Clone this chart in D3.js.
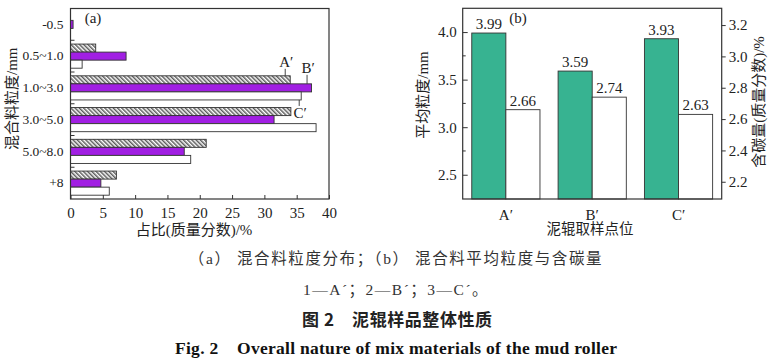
<!DOCTYPE html>
<html><head><meta charset="utf-8">
<script src="https://cdn.jsdelivr.net/npm/d3@7"></script>
<style>
html,body{margin:0;padding:0;background:#fff;}
svg{display:block;}
</style></head>
<body>
<svg id="c" width="770" height="358"></svg>
<script>
// ---------- data ----------
const sizeCats = ["-0.5","0.5~1.0","1.0~3.0","3.0~5.0","5.0~8.0","+8"];
const seriesNames = ["A′","B′","C′"];
const seriesA = [0, 3.9, 34.0, 34.1, 21.0, 7.1];
const seriesB = [0.4, 8.6, 37.3, 31.5, 17.6, 4.7];
const seriesC = [0, 1.8, 35.7, 38.0, 18.6, 6.0];
const xTicksA = [0,5,10,15,20,25,30,35,40];

const sampleCats = ["A′","B′","C′"];
const meanSize = [3.99, 3.59, 3.93];
const carbon = [2.66, 2.74, 2.63];
const leftTicksB = [2.5,3.0,3.5,4.0];
const leftMinorB = [2.75,3.25,3.75];
const rightTicksB = [2.2,2.4,2.6,2.8,3.0,3.2];

const SERIF = "'Liberation Serif','Times New Roman','Noto Sans CJK SC',serif";
const CJK = "'Liberation Serif','Noto Sans CJK SC',serif";
const TXT = "#222";
const LINE = "#333";
const PURPLE = "#a11fe3";
const GREEN = "#37b391";

const svg = d3.select("#c");
const defs = svg.append("defs");
const pat = defs.append("pattern").attr("id","hatch").attr("patternUnits","userSpaceOnUse")
  .attr("width",3).attr("height",3).attr("patternTransform","rotate(-45)");
pat.append("rect").attr("width",3).attr("height",3).attr("fill","#fff");
pat.append("line").attr("x1",0.8).attr("y1",0).attr("x2",0.8).attr("y2",3)
  .attr("stroke","#333").attr("stroke-width",1.2);

// ---------- chart (a) ----------
const aL=70.5, aR=329, aT=8.5, aB=199;
const xA = d3.scaleLinear().domain([0,40]).range([aL,aR]);
const yA = d3.scaleBand().domain(sizeCats).range([aT,aB]).paddingInner(0.24).paddingOuter(0.12);
const ySub = d3.scaleBand().domain(seriesNames).range([0,yA.bandwidth()]);
const fills = ["url(#hatch)", PURPLE, "#fff"];
const seriesAll = [seriesA, seriesB, seriesC];

const gA = svg.append("g");
seriesAll.forEach((vals,si)=>{
  gA.selectAll(null).data(sizeCats.map((c,i)=>({c, v:vals[i]})).filter(d=>d.v>0))
    .enter().append("rect")
    .attr("x", xA(0))
    .attr("y", d=>yA(d.c)+ySub(seriesNames[si]))
    .attr("width", d=>xA(d.v)-xA(0))
    .attr("height", ySub.bandwidth())
    .attr("fill", fills[si])
    .attr("stroke", LINE).attr("stroke-width",0.9);
});
// frame
gA.append("rect").attr("x",aL).attr("y",aT).attr("width",aR-aL).attr("height",aB-aT)
  .attr("fill","none").attr("stroke",LINE).attr("stroke-width",1.2);
// x axis
const axA = d3.axisBottom(xA).tickValues(xTicksA).tickSize(-4).tickPadding(8).tickFormat(d3.format("d"));
const gax = gA.append("g").attr("transform",`translate(0,${aB})`).call(axA);
gax.select(".domain").remove();
gax.selectAll("line").attr("stroke",LINE);
gax.selectAll("text").attr("font-family",SERIF).attr("font-size",15).attr("fill",TXT);
// y axis labels
const ayA = d3.axisLeft(yA).tickSize(0).tickPadding(7);
const gay = gA.append("g").attr("transform",`translate(${aL},0)`).call(ayA);
gay.select(".domain").remove();
gay.selectAll("text").attr("font-family",SERIF).attr("font-size",13.5).attr("fill",TXT);
// y boundary ticks
const step = yA.step(), bw = yA.bandwidth();
gA.selectAll(null).data(sizeCats.slice(0,-1)).enter().append("line")
  .attr("x1",aL).attr("x2",aL+4)
  .attr("y1",d=>yA(d)+bw+(step-bw)/2).attr("y2",d=>yA(d)+bw+(step-bw)/2)
  .attr("stroke",LINE);
// titles
gA.append("text").attr("x",93).attr("y",23).attr("text-anchor","middle")
  .attr("font-family",SERIF).attr("font-size",15).attr("fill",TXT).text("(a)");
gA.append("text").attr("x",194).attr("y",235).attr("text-anchor","middle")
  .attr("font-family",CJK).attr("font-size",15).attr("fill",TXT).text("占比(质量分数)/%");
gA.append("text").attr("transform",`translate(17,${(aT+aB)/2-5}) rotate(-90)`).attr("text-anchor","middle")
  .attr("font-family",CJK).attr("font-size",15).attr("fill",TXT).text("混合料粒度/mm");
// leader annotations on 1.0~3.0 group
const g3 = "1.0~3.0";
const annA = {x:xA(seriesA[2])-5, y0:yA(g3)+ySub("A′")-7, y1:yA(g3)+ySub("A′")};
const annB = {x:xA(seriesB[2])-4.5, y0:yA(g3)+ySub("B′")-9, y1:yA(g3)+ySub("B′")};
const annC = {x:xA(seriesC[2])-2, y0:yA(g3)+ySub("C′")+ySub.bandwidth(), y1:yA(g3)+ySub("C′")+ySub.bandwidth()+6};
[annA,annB,annC].forEach(a=>{
  gA.append("line").attr("x1",a.x).attr("x2",a.x).attr("y1",a.y0).attr("y2",a.y1)
    .attr("stroke",LINE).attr("stroke-width",0.9);
});
gA.append("text").attr("x",annA.x+1).attr("y",annA.y0-2).attr("text-anchor","middle")
  .attr("font-family",SERIF).attr("font-size",15).attr("fill",TXT).text("A′");
gA.append("text").attr("x",annB.x+1).attr("y",annB.y0-2).attr("text-anchor","middle")
  .attr("font-family",SERIF).attr("font-size",15).attr("fill",TXT).text("B′");
gA.append("text").attr("x",annC.x+1).attr("y",annC.y1+12).attr("text-anchor","middle")
  .attr("font-family",SERIF).attr("font-size",15).attr("fill",TXT).text("C′");

// ---------- chart (b) ----------
const bL=462.7, bR=721.7, bT=8.3, bB=199;
const xB = d3.scaleBand().domain(sampleCats).range([bL,bR]).paddingInner(0.21).paddingOuter(0.105);
const yL = d3.scaleLinear().domain([2.245,4.25]).range([bB,bT]);
const yR = d3.scaleLinear().domain([2.09,3.307]).range([bB,bT]);
const half = xB.bandwidth()/2;
const gB = svg.append("g");
gB.selectAll(null).data(sampleCats.map((c,i)=>({c,v:meanSize[i]}))).enter().append("rect")
  .attr("x",d=>xB(d.c)).attr("y",d=>yL(d.v)).attr("width",half).attr("height",d=>bB-yL(d.v))
  .attr("fill",GREEN).attr("stroke",LINE).attr("stroke-width",0.9);
gB.selectAll(null).data(sampleCats.map((c,i)=>({c,v:carbon[i]}))).enter().append("rect")
  .attr("x",d=>xB(d.c)+half).attr("y",d=>yR(d.v)).attr("width",half).attr("height",d=>bB-yR(d.v))
  .attr("fill","#fff").attr("stroke",LINE).attr("stroke-width",0.9);
// value labels
gB.selectAll(null).data(sampleCats.map((c,i)=>({c,v:meanSize[i]}))).enter().append("text")
  .attr("x",d=>xB(d.c)+half/2).attr("y",d=>yL(d.v)-4).attr("text-anchor","middle")
  .attr("font-family",SERIF).attr("font-size",15).attr("fill",TXT).text(d=>d.v.toFixed(2));
gB.selectAll(null).data(sampleCats.map((c,i)=>({c,v:carbon[i]}))).enter().append("text")
  .attr("x",d=>xB(d.c)+half*1.5).attr("y",d=>yR(d.v)-4).attr("text-anchor","middle")
  .attr("font-family",SERIF).attr("font-size",15).attr("fill",TXT).text(d=>d.v.toFixed(2));
// frame
gB.append("rect").attr("x",bL).attr("y",bT).attr("width",bR-bL).attr("height",bB-bT)
  .attr("fill","none").attr("stroke",LINE).attr("stroke-width",1.2);
// left axis
const gl = gB.append("g").attr("transform",`translate(${bL},0)`)
  .call(d3.axisLeft(yL).tickValues(leftTicksB).tickSize(-5).tickPadding(6).tickFormat(d3.format(".1f")));
gl.select(".domain").remove();
gl.selectAll("line").attr("stroke",LINE);
gl.selectAll("text").attr("font-family",SERIF).attr("font-size",15).attr("fill",TXT);
gB.selectAll(null).data(leftMinorB).enter().append("line")
  .attr("x1",bL).attr("x2",bL+3).attr("y1",d=>yL(d)).attr("y2",d=>yL(d)).attr("stroke",LINE);
// right axis
const gr = gB.append("g").attr("transform",`translate(${bR},0)`)
  .call(d3.axisRight(yR).tickValues(rightTicksB).tickSize(4).tickPadding(3).tickFormat(d3.format(".1f")));
gr.select(".domain").remove();
gr.selectAll("line").attr("stroke",LINE);
gr.selectAll("text").attr("font-family",SERIF).attr("font-size",15).attr("fill",TXT);
// bottom axis labels
const gbx = gB.append("g").attr("transform",`translate(0,${bB})`)
  .call(d3.axisBottom(xB).tickSize(0).tickPadding(10));
gbx.select(".domain").remove();
gbx.selectAll("text").attr("font-family",SERIF).attr("font-size",15).attr("fill",TXT);
// titles
gB.append("text").attr("x",518).attr("y",23).attr("text-anchor","middle")
  .attr("font-family",SERIF).attr("font-size",15).attr("fill",TXT).text("(b)");
gB.append("text").attr("x",590).attr("y",234).attr("text-anchor","middle")
  .attr("font-family",CJK).attr("font-size",14.5).attr("fill",TXT).text("泥辊取样点位");
gB.append("text").attr("transform",`translate(428,95) rotate(-90)`).attr("text-anchor","middle")
  .attr("font-family",CJK).attr("font-size",15).attr("fill",TXT).text("平均粒度/mm");
gB.append("text").attr("transform",`translate(764,102) rotate(-90)`).attr("text-anchor","middle")
  .attr("font-family",CJK).attr("font-size",15).attr("fill",TXT).text("含碳量(质量分数)/%");

// ---------- captions ----------
const cap = svg.append("g").attr("fill","#333");
cap.append("text").attr("x",396).attr("y",264).attr("text-anchor","middle")
  .attr("font-family",CJK).attr("font-size",15.5).attr("letter-spacing","1.6px")
  .text("（a） 混合料粒度分布；（b） 混合料平均粒度与含碳量");
cap.append("text").attr("x",396).attr("y",295).attr("text-anchor","middle")
  .attr("font-family",CJK).attr("font-size",15.5).attr("letter-spacing","1.5px")
  .text("1—A´；2—B´；3—C´。");
cap.append("text").attr("x",302).attr("y",326)
  .attr("font-family","'Noto Sans CJK SC',sans-serif").attr("font-weight",700).attr("font-size",17)
  .attr("textLength",190).attr("lengthAdjust","spacing")
  .attr("fill","#222").attr("xml:space","preserve").text("图 2　泥辊样品整体性质");
cap.append("text").attr("x",175).attr("y",354)
  .attr("font-family","'Liberation Serif',serif").attr("font-weight",700).attr("font-size",17.5)
  .attr("textLength",442).attr("lengthAdjust","spacing")
  .attr("fill","#111").attr("xml:space","preserve").text("Fig. 2    Overall nature of mix materials of the mud roller");
</script>
</body></html>
